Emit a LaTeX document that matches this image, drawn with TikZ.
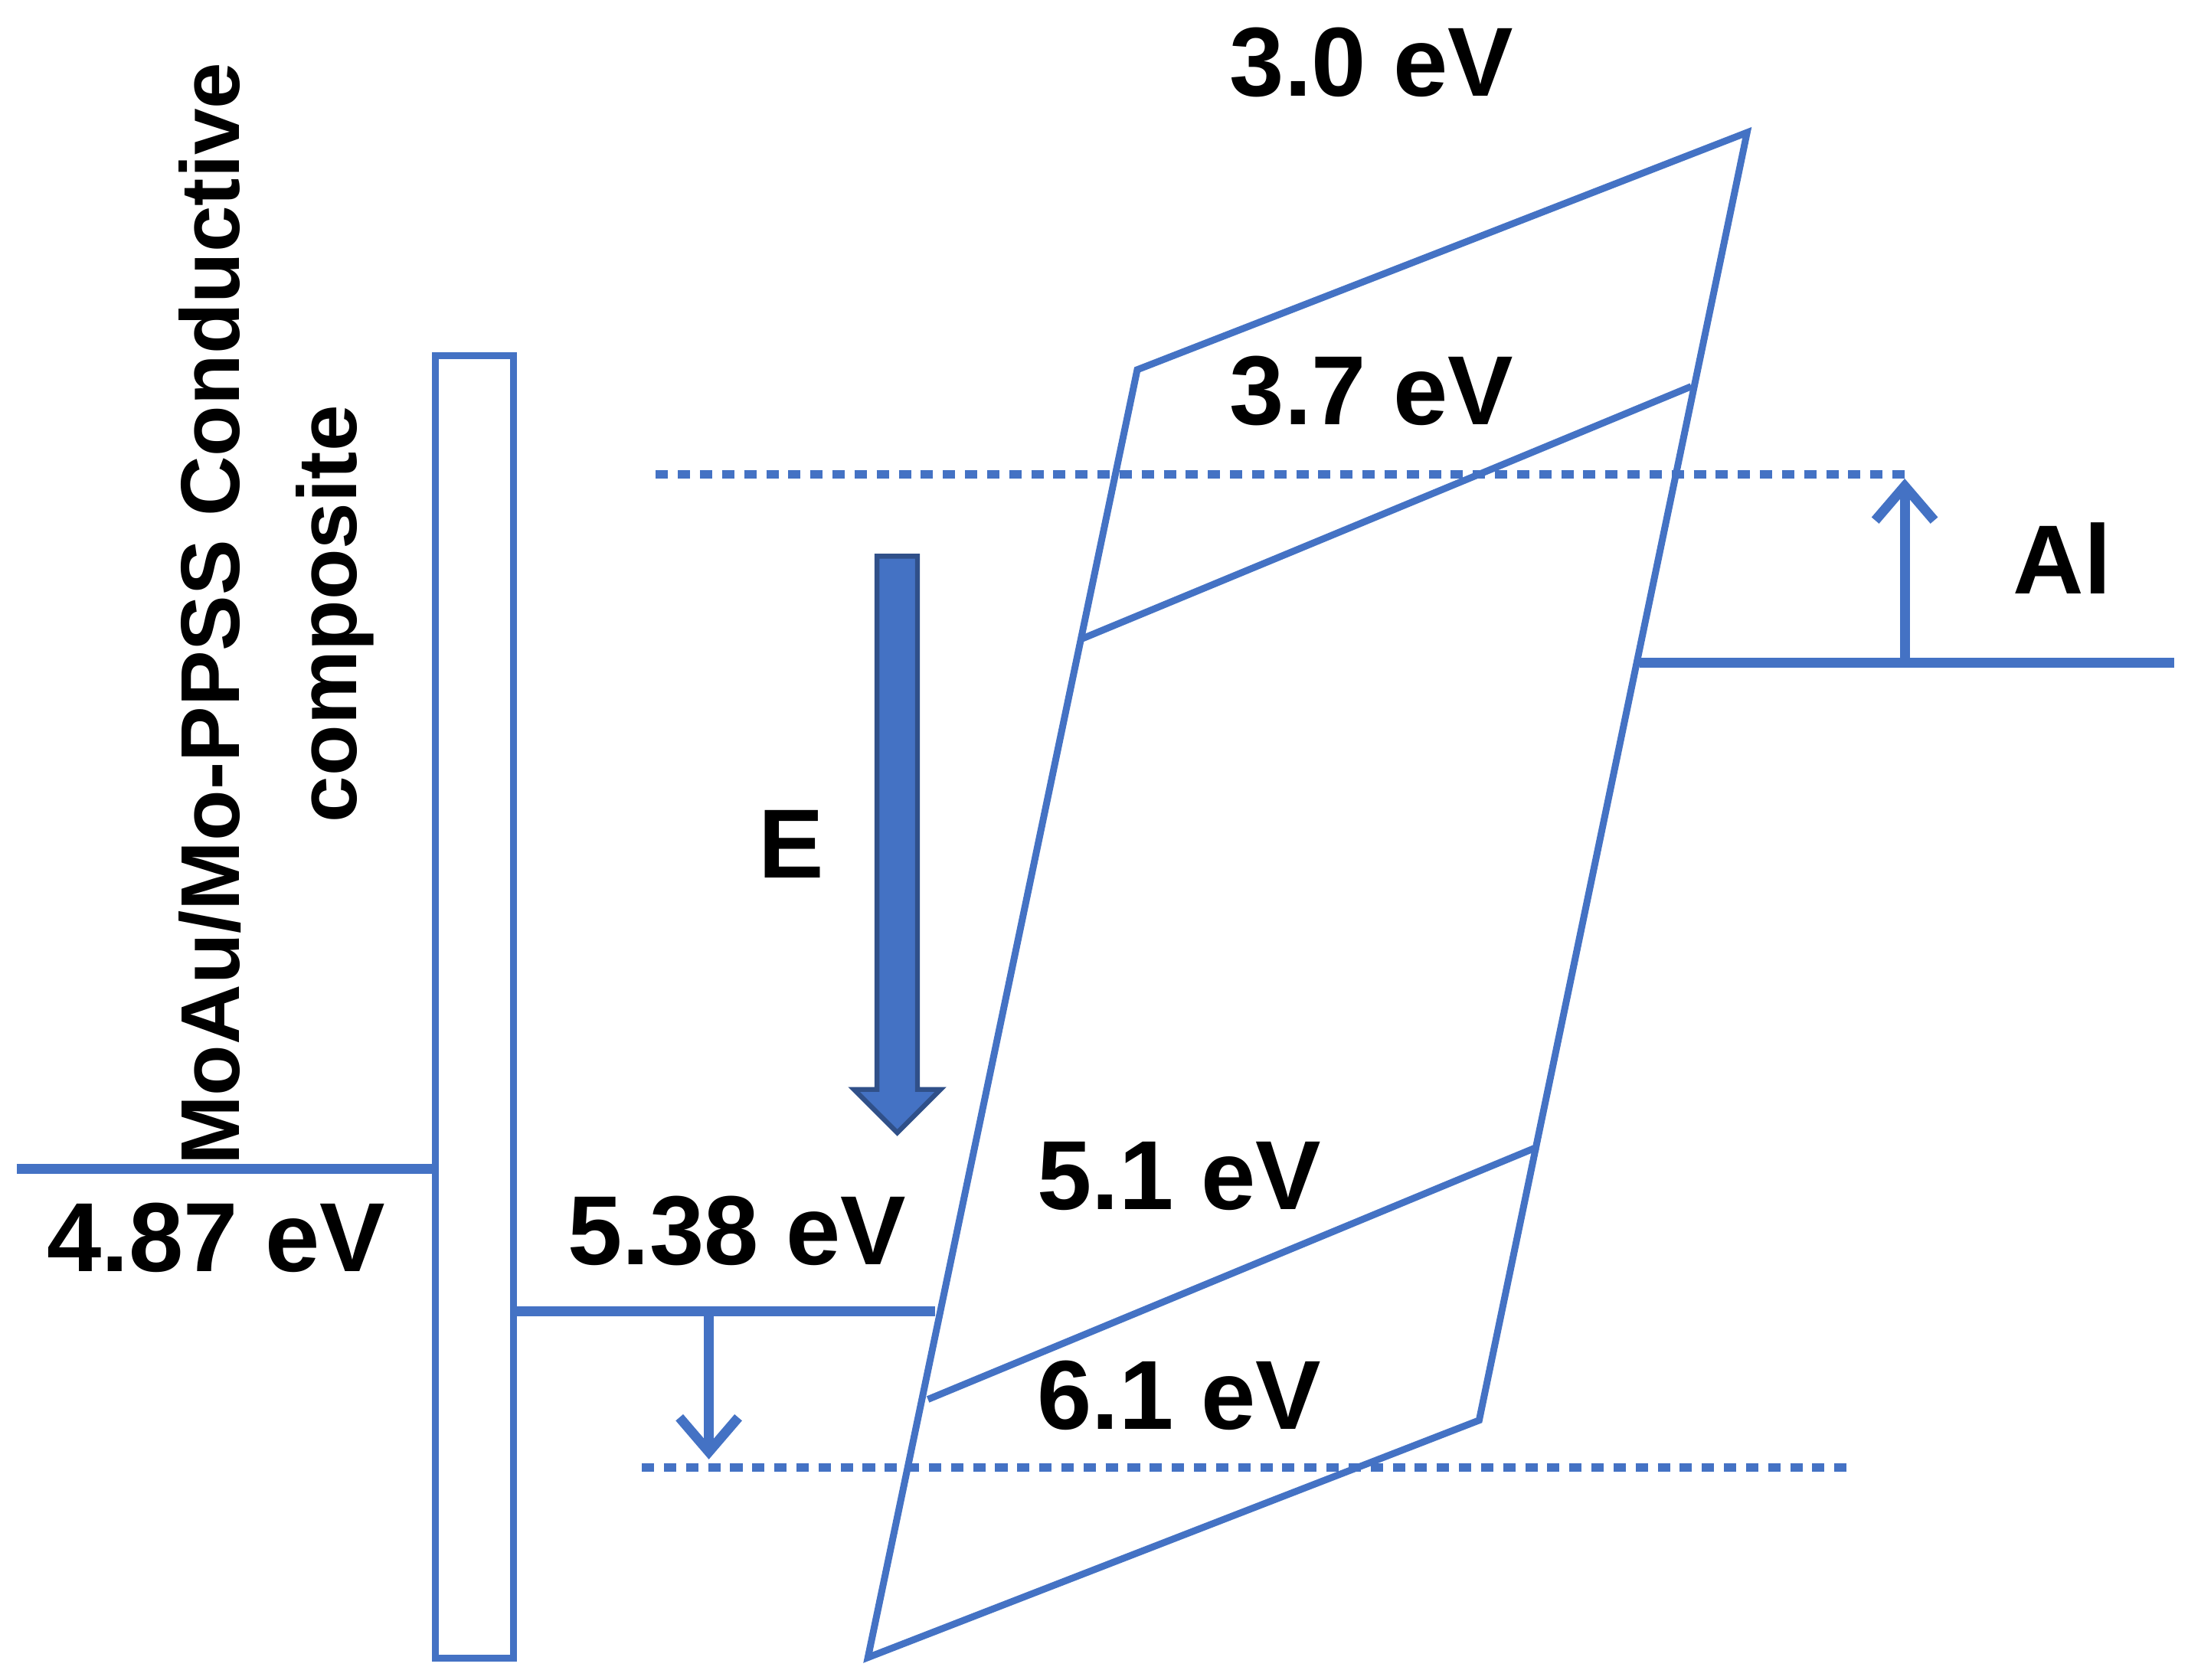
\documentclass[tikz,border=0pt]{standalone}
\usepackage{fontspec}
\setmainfont{Liberation Sans}
\usetikzlibrary{arrows.meta,shapes.arrows}
\definecolor{band}{HTML}{4472C4}
\tikzset{
  x=0.01cm, y=-0.01cm,
  lvl/.style={draw=band, line width=1.4pt},
  wide/.style={draw=band, line width=2pt},
  dots/.style={draw=band, line width=1.7pt, dash pattern=on 2.5pt off 2pt},
  lab/.style={font=\fontsize{20}{24}\selectfont\bfseries, inner sep=0pt},
  >={Straight Barb[length=7pt,width=12pt,line width=2pt]},
}
\begin{document}
\begin{tikzpicture}
  \useasboundingbox (0,0) rectangle (1568,1204);
  % band parallelogram
  \coordinate (LT) at (815,265);
  \coordinate (RT) at (1252,95);
  \coordinate (RB) at (1060,1018);
  \coordinate (LB) at (622,1188);
  \draw[lvl] (LT) -- (RT) -- (RB) -- (LB) -- cycle;
  \draw[lvl] (775,458) -- (1212,277);
  \draw[lvl] (665,1003) -- (1102,822);
  % dotted levels
  \draw[dots] (470,340) -- (1365,340);
  \draw[dots] (460,1052) -- (1330,1052);
  % electrode
  \node[draw=band, line width=1.4pt, minimum width=0.56cm, minimum height=9.33cm,
    inner sep=0pt] (el) at (340,721.5) {};
  \coordinate (w) at (12,838);
  \draw[wide] (w) -- (w -| el.west);
  \coordinate (h) at (670,940);
  \draw[wide] (h -| el.east) -- (h);
  \coordinate (hd) at (508,940);
  \draw[wide,->] (hd) -- (508,1046);
  % Al
  \coordinate (al) at (1175,475);
  \draw[wide] (al) -- (1558,475);
  \draw[wide,->] (1365,475) -- (1365,343);
  % field arrow
  \node[single arrow, fill=band, draw=band!70!black, shape border rotate=270,
    minimum width=0.62cm, single arrow head extend=0.02cm,
    single arrow tip angle=90, minimum height=4.13cm, inner sep=0pt,
    single arrow head indent=0pt, line width=1pt] (E) at (643,598) {};
  % labels
  \node[lab] (l30) at (983,45) {3.0 eV};
  \node[lab] (l37) at (983,280) {3.7 eV};
  \node[lab] (lAl) at (1478,400) {Al};
  \node[lab] (lE) at (567,605) {E};
  \node[lab] (l51) at (845,843) {5.1 eV};
  \node[lab] (l538) at (528,882) {5.38 eV};
  \node[lab] (l487) at (155,887) {4.87 eV};
  \node[lab] (l61) at (845,1000) {6.1 eV};
  \node[lab, rotate=90, align=center, font=\fontsize{17}{24}\selectfont\bfseries]
    (comp) at (198,440) {MoAu/Mo-PPSS Conductive\\composite};
\end{tikzpicture}
\end{document}
